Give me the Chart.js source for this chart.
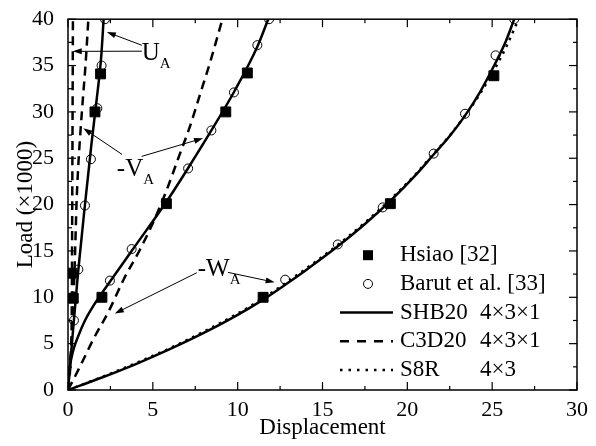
<!DOCTYPE html>
<html>
<head>
<meta charset="utf-8">
<script src="https://cdn.jsdelivr.net/npm/chart.js@4.4.0/dist/chart.umd.min.js"></script>
<style>
  html, body { margin: 0; padding: 0; background: #fff; }
</style>
</head>
<body>
<canvas id="chart-load" width="596" height="446"></canvas>
<script>
const xTicks = [0, 5, 10, 15, 20, 25, 30];
const yTicks = [0, 5, 10, 15, 20, 25, 30, 35, 40];

// reference points [displacement, load/1000]
const hsiaoU = [[0.31, 9.9], [0.22, 12.6], [1.59, 30.0], [1.92, 34.1]];
const hsiaoV = [[2.0, 10.0], [5.8, 20.1], [9.3, 30.0], [10.57, 34.2]];
const hsiaoW = [[11.5, 10.0], [19.0, 20.1], [25.1, 33.9]];

const barutU = [[0.35, 7.5], [0.61, 13.0], [1.0, 19.9], [1.35, 24.9], [1.73, 30.4], [1.98, 35.0], [2.18, 40.0]];
const barutV = [[2.47, 11.8], [3.75, 15.2], [7.08, 23.9], [8.45, 28.0], [9.78, 32.1], [11.16, 37.2], [11.85, 40.0]];
const barutW = [[12.8, 11.9], [15.9, 15.7], [18.55, 19.7], [21.55, 25.5], [23.4, 29.8], [25.2, 36.1], [26.3, 40.0]];

// SHB20 4x3x1
const shbU = [[0, 0], [0.3, 6.5], [0.6, 12.8], [1.0, 20.0], [1.38, 26.5], [1.7, 31.5], [1.95, 35.8], [2.1, 40]];
const shbV = [[0, 0], [0.1, 2.3], [0.3, 4.2], [0.6, 5.8], [1.0, 7.5], [1.5, 9.1], [2.0, 10.45], [2.5, 11.75],
  [3.75, 15.0], [5.8, 20.3], [7.1, 24.0], [8.45, 28.0], [9.8, 32.2], [11.15, 37.0], [11.8, 40]];
const shbW = [[0, 0], [2, 1.35], [4, 2.8], [6, 4.4], [8, 6.15], [10, 8.1], [11.5, 9.75], [12.8, 11.35], [14, 12.9],
  [15.9, 15.5], [17.5, 17.9], [19, 20.4], [20.5, 23.2], [21.55, 25.4], [22.5, 27.4], [23.4, 29.6], [24.3, 32.2],
  [25.2, 35.3], [25.8, 37.6], [26.3, 40]];

// C3D20 4x3x1
const c3dU = [[0, 0], [0.15, 3], [0.22, 8], [0.25, 20], [0.27, 30], [0.29, 40]];
const c3dV = [[0, 0], [0.2, 5], [0.33, 10], [0.42, 15], [0.5, 20], [0.6, 24], [0.72, 27.5], [0.88, 31.5], [1.03, 35], [1.2, 40]];
const c3dW = [[0, 0], [0.7, 2.5], [1.5, 5.5], [2.4, 8.5], [3.3, 12], [4.2, 15], [5.0, 18], [5.8, 21.5],
  [6.5, 25], [7.2, 28.5], [7.8, 32], [8.4, 35.5], [9.1, 40]];

// S8R 4x3
const s8rW = [[0, 0], [2, 1.4], [4, 2.9], [6, 4.5], [8, 6.3], [10, 8.25], [11.5, 9.9], [12.8, 11.5], [14, 13.05],
  [15.9, 15.65], [17.5, 18.05], [19, 20.55], [20.5, 23.3], [21.55, 25.5], [22.5, 27.45], [23.4, 29.6], [24.3, 32.0],
  [25.2, 34.8], [25.9, 37.3], [26.6, 40.2]];

const pts = a => a.map(([x, y]) => ({x, y}));
const FONT = 'Liberation Serif, Times New Roman, serif';

function marker(data, style) {
  return {
    data: pts(data), showLine: false, pointStyle: style,
    pointRadius: style === 'rect' ? 7 : 4.5, pointBorderWidth: 1,
    pointBorderColor: '#000', pointBackgroundColor: style === 'rect' ? '#000' : 'rgba(0,0,0,0)'
  };
}
function curve(data, dash) {
  return {
    data: pts(data), showLine: true, pointRadius: 0, borderColor: '#000',
    borderWidth: 2.5, borderDash: dash, cubicInterpolationMode: 'monotone', clip: 0
  };
}

// annotations, in data units
const labels = [
  {main: 'U', sub: 'A', at: [4.35, 35.6],
   arrows: [[[4.35, 37.19], [2.29, 38.61]], [[4.35, 36.55], [0.28, 36.53]]]},
  {main: '-V', sub: 'A', at: [2.88, 23.06],
   arrows: [[[3.18, 25.42], [0.9, 28.24]], [[4.34, 25.2], [7.96, 27.16]]]},
  {main: '-W', sub: 'A', at: [7.65, 12.33],
   arrows: [[[7.59, 12.65], [2.76, 8.25]], [[9.43, 12.69], [12.18, 11.62]]]}
];

const legendRows = [
  {kind: 'rect', name: 'Hsiao [32]', mesh: ''},
  {kind: 'circle', name: 'Barut et al. [33]', mesh: ''},
  {kind: 'solid', name: 'SHB20', mesh: '4×3×1'},
  {kind: 'dash', name: 'C3D20', mesh: '4×3×1'},
  {kind: 'dot', name: 'S8R', mesh: '4×3'}
];

const decor = {
  id: 'decor',
  afterDatasetsDraw(chart) {
    const {ctx, chartArea: a, scales: {x, y}} = chart;
    ctx.save();
    ctx.setLineDash([]);
    // frame
    ctx.strokeStyle = '#000';
    ctx.fillStyle = '#000';
    ctx.lineWidth = 1.5;
    ctx.strokeRect(a.left, a.top, a.right - a.left, a.bottom - a.top);
    // inward ticks
    for (let v = 0; v <= 30; v += 2.5) {
      const px = x.getPixelForValue(v);
      const len = v % 5 === 0 ? 8 : 4;
      ctx.fillRect(px - 0.6, a.bottom - len, 1.2, len);
      ctx.fillRect(px - 0.6, a.top, 1.2, len);
    }
    for (let v = 0; v <= 40; v += 2.5) {
      const py = y.getPixelForValue(v);
      const len = v % 5 === 0 ? 8 : 4;
      ctx.fillRect(a.left, py - 0.6, len, 1.2);
      ctx.fillRect(a.right - len, py - 0.6, len, 1.2);
    }

    // labels and arrows
    ctx.lineWidth = 1;
    ctx.textBaseline = 'alphabetic';
    ctx.textAlign = 'left';
    labels.forEach(l => {
      const lx = x.getPixelForValue(l.at[0]), ly = y.getPixelForValue(l.at[1]);
      ctx.font = '25px ' + FONT;
      ctx.fillText(l.main, lx, ly);
      const w = ctx.measureText(l.main).width;
      ctx.font = '15px ' + FONT;
      ctx.fillText(l.sub, lx + w, ly + 8);
      l.arrows.forEach(([f, t]) => {
        const x0 = x.getPixelForValue(f[0]), y0 = y.getPixelForValue(f[1]);
        const x1 = x.getPixelForValue(t[0]), y1 = y.getPixelForValue(t[1]);
        const ang = Math.atan2(y1 - y0, x1 - x0);
        ctx.beginPath();
        ctx.moveTo(x0, y0);
        ctx.lineTo(x1 - 6 * Math.cos(ang), y1 - 6 * Math.sin(ang));
        ctx.stroke();
        ctx.beginPath();
        ctx.moveTo(x1, y1);
        ctx.lineTo(x1 - 9 * Math.cos(ang) + 3 * Math.sin(ang), y1 - 9 * Math.sin(ang) - 3 * Math.cos(ang));
        ctx.lineTo(x1 - 9 * Math.cos(ang) - 3 * Math.sin(ang), y1 - 9 * Math.sin(ang) + 3 * Math.cos(ang));
        ctx.closePath();
        ctx.fill();
      });
    });

    // legend
    const left = a.left + 272, textX = a.left + 332, meshX = a.left + 412;
    let row = a.top + 236;
    ctx.font = '23px ' + FONT;
    ctx.textBaseline = 'middle';
    legendRows.forEach(r => {
      ctx.lineWidth = 2.5;
      ctx.setLineDash([]);
      if (r.kind === 'rect') {
        ctx.fillRect(left + 23, row - 5, 10, 10);
      } else if (r.kind === 'circle') {
        ctx.lineWidth = 1;
        ctx.beginPath(); ctx.arc(left + 28, row, 4.5, 0, Math.PI * 2); ctx.stroke();
      } else {
        if (r.kind === 'dash') ctx.setLineDash([9, 8]);
        if (r.kind === 'dot') ctx.setLineDash([2.5, 6]);
        ctx.beginPath(); ctx.moveTo(left, row); ctx.lineTo(left + 53, row); ctx.stroke();
        ctx.setLineDash([]);
      }
      ctx.fillText(r.name, textX, row);
      if (r.mesh) ctx.fillText(r.mesh, meshX, row);
      row += 28.7;
    });
    ctx.restore();
  }
};

new Chart(document.getElementById('chart-load'), {
  type: 'scatter',
  data: {
    datasets: [
      marker(hsiaoU, 'rect'), marker(hsiaoV, 'rect'), marker(hsiaoW, 'rect'),
      marker(barutU, 'circle'), marker(barutV, 'circle'), marker(barutW, 'circle'),
      curve(shbU, []), curve(shbV, []), curve(shbW, []),
      curve(c3dU, [9, 6]), curve(c3dV, [9, 6]), curve(c3dW, [9, 6]),
      curve(s8rW, [2.5, 5])
    ]
  },
  options: {
    responsive: false,
    animation: false,
    layout: {padding: {left: 0, right: 19, top: 17, bottom: 0}},
    plugins: {legend: {display: false}, tooltip: {enabled: false}},
    scales: {
      x: {
        type: 'linear', min: 0, max: 30,
        afterBuildTicks: s => { s.ticks = xTicks.map(v => ({value: v})); },
        afterFit: s => { s.height = 56; },
        grid: {display: false}, border: {display: false},
        ticks: {color: '#000', font: {family: FONT, size: 22}, padding: -1, maxRotation: 0},
        title: {display: true, text: 'Displacement', color: '#000',
                font: {family: FONT, size: 23}, padding: {top: 0, bottom: 4}}
      },
      y: {
        type: 'linear', min: 0, max: 40,
        afterBuildTicks: s => { s.ticks = yTicks.map(v => ({value: v})); },
        afterFit: s => { s.width = 68; },
        grid: {display: false}, border: {display: false},
        ticks: {color: '#000', font: {family: FONT, size: 22}, padding: 6},
        title: {display: true, text: 'Load (×1000)', color: '#000',
                font: {family: FONT, size: 23}, padding: {top: 12, bottom: 0}}
      }
    }
  },
  plugins: [decor]
});
</script>
</body>
</html>
